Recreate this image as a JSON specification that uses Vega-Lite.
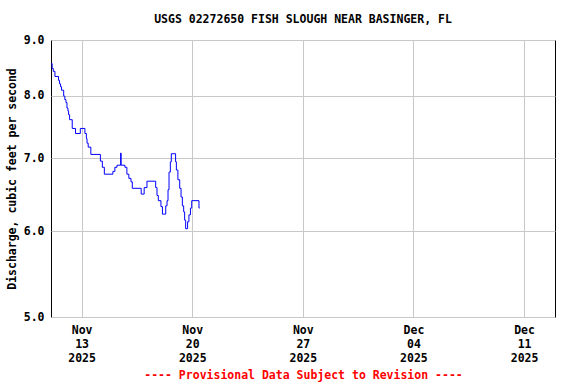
{
  "$schema": "https://vega.github.io/schema/vega-lite/v6.json",
  "width": 504,
  "height": 277,
  "autosize": {"type": "none"},
  "padding": {"left": 51, "top": 40, "right": 21, "bottom": 67},
  "background": "white",
  "title": {
    "text": "USGS 02272650 FISH SLOUGH NEAR BASINGER, FL",
    "font": "DejaVu Sans Mono",
    "fontSize": 11.5,
    "fontWeight": "bold",
    "color": "black",
    "anchor": "middle",
    "frame": "group",
    "offset": 9
  },
  "data": {
    "values": [
      {"time": "2025-11-11T01:45", "discharge": 8.56},
      {"time": "2025-11-11T03:15", "discharge": 8.47},
      {"time": "2025-11-11T05:00", "discharge": 8.42},
      {"time": "2025-11-11T07:30", "discharge": 8.33},
      {"time": "2025-11-11T13:00", "discharge": 8.26},
      {"time": "2025-11-11T14:30", "discharge": 8.20},
      {"time": "2025-11-11T16:00", "discharge": 8.15},
      {"time": "2025-11-11T17:30", "discharge": 8.09},
      {"time": "2025-11-11T20:45", "discharge": 7.99},
      {"time": "2025-11-11T22:30", "discharge": 7.93},
      {"time": "2025-11-12T00:15", "discharge": 7.88},
      {"time": "2025-11-12T01:45", "discharge": 7.79},
      {"time": "2025-11-12T03:15", "discharge": 7.74},
      {"time": "2025-11-12T04:15", "discharge": 7.68},
      {"time": "2025-11-12T05:45", "discharge": 7.60},
      {"time": "2025-11-12T09:45", "discharge": 7.46},
      {"time": "2025-11-12T14:45", "discharge": 7.38},
      {"time": "2025-11-12T22:00", "discharge": 7.46},
      {"time": "2025-11-13T05:00", "discharge": 7.38},
      {"time": "2025-11-13T07:15", "discharge": 7.30},
      {"time": "2025-11-13T08:15", "discharge": 7.23},
      {"time": "2025-11-13T10:00", "discharge": 7.17},
      {"time": "2025-11-13T14:00", "discharge": 7.06},
      {"time": "2025-11-14T04:30", "discharge": 6.96},
      {"time": "2025-11-14T07:30", "discharge": 6.87},
      {"time": "2025-11-14T10:30", "discharge": 6.77},
      {"time": "2025-11-14T23:30", "discharge": 6.81},
      {"time": "2025-11-15T02:30", "discharge": 6.87},
      {"time": "2025-11-15T05:45", "discharge": 6.90},
      {"time": "2025-11-15T11:15", "discharge": 7.08},
      {"time": "2025-11-15T12:00", "discharge": 6.90},
      {"time": "2025-11-15T17:45", "discharge": 6.87},
      {"time": "2025-11-15T20:45", "discharge": 6.77},
      {"time": "2025-11-15T23:45", "discharge": 6.71},
      {"time": "2025-11-16T03:00", "discharge": 6.66},
      {"time": "2025-11-16T05:00", "discharge": 6.57},
      {"time": "2025-11-16T18:30", "discharge": 6.49},
      {"time": "2025-11-16T23:00", "discharge": 6.58},
      {"time": "2025-11-17T03:15", "discharge": 6.67},
      {"time": "2025-11-17T16:30", "discharge": 6.58},
      {"time": "2025-11-17T18:30", "discharge": 6.47},
      {"time": "2025-11-17T20:30", "discharge": 6.40},
      {"time": "2025-11-18T00:30", "discharge": 6.32},
      {"time": "2025-11-18T02:45", "discharge": 6.22},
      {"time": "2025-11-18T07:45", "discharge": 6.33},
      {"time": "2025-11-18T09:45", "discharge": 6.40},
      {"time": "2025-11-18T11:15", "discharge": 6.55},
      {"time": "2025-11-18T12:45", "discharge": 6.80},
      {"time": "2025-11-18T14:45", "discharge": 6.95},
      {"time": "2025-11-18T16:15", "discharge": 7.07},
      {"time": "2025-11-18T22:45", "discharge": 6.95},
      {"time": "2025-11-18T23:55", "discharge": 6.83},
      {"time": "2025-11-19T02:15", "discharge": 6.69},
      {"time": "2025-11-19T05:00", "discharge": 6.57},
      {"time": "2025-11-19T07:00", "discharge": 6.45},
      {"time": "2025-11-19T09:00", "discharge": 6.33},
      {"time": "2025-11-19T11:00", "discharge": 6.25},
      {"time": "2025-11-19T12:30", "discharge": 6.14},
      {"time": "2025-11-19T14:00", "discharge": 6.03},
      {"time": "2025-11-19T17:00", "discharge": 6.12},
      {"time": "2025-11-19T19:00", "discharge": 6.21},
      {"time": "2025-11-19T21:15", "discharge": 6.30},
      {"time": "2025-11-19T23:15", "discharge": 6.40},
      {"time": "2025-11-20T10:15", "discharge": 6.30},
      {"time": "2025-11-20T11:15", "discharge": 6.30}
    ]
  },
  "mark": {"type": "line", "interpolate": "step-after", "color": "#0000ff", "strokeWidth": 1, "clip": true},
  "encoding": {
    "x": {
      "field": "time",
      "type": "temporal",
      "scale": {
        "domain": [
          {"year": 2025, "month": "nov", "date": 11, "hours": 1, "minutes": 30},
          {"year": 2025, "month": "dec", "date": 12, "hours": 23, "minutes": 0}
        ]
      },
      "axis": {
        "title": "---- Provisional Data Subject to Revision ----",
        "titleColor": "#ff0000",
        "titlePadding": 6,
        "values": [
          {"year": 2025, "month": "nov", "date": 13},
          {"year": 2025, "month": "nov", "date": 20},
          {"year": 2025, "month": "nov", "date": 27},
          {"year": 2025, "month": "dec", "date": 4},
          {"year": 2025, "month": "dec", "date": 11}
        ],
        "labelExpr": "[timeFormat(datum.value, '%b'), timeFormat(datum.value, '%d'), timeFormat(datum.value, '%Y')]",
        "labelLineHeight": 14,
        "labelBaseline": "top",
        "labelPadding": 7,
        "labelAlign": "center"
      }
    },
    "y": {
      "field": "discharge",
      "type": "quantitative",
      "scale": {"type": "log", "domain": [5, 9], "nice": false},
      "axis": {
        "title": "Discharge, cubic feet per second",
        "titlePadding": 6,
        "values": [5, 6, 7, 8, 9],
        "format": ".1f",
        "labelPadding": 7
      }
    }
  },
  "config": {
    "view": {"stroke": "black", "strokeWidth": 1},
    "axis": {
      "domain": false,
      "ticks": false,
      "grid": true,
      "gridColor": "#c8c8c8",
      "gridWidth": 1,
      "labelFont": "DejaVu Sans Mono",
      "labelFontSize": 11.5,
      "labelFontWeight": "bold",
      "labelColor": "black",
      "titleFont": "DejaVu Sans Mono",
      "titleFontSize": 11.5,
      "titleFontWeight": "bold",
      "titleColor": "black"
    }
  }
}
